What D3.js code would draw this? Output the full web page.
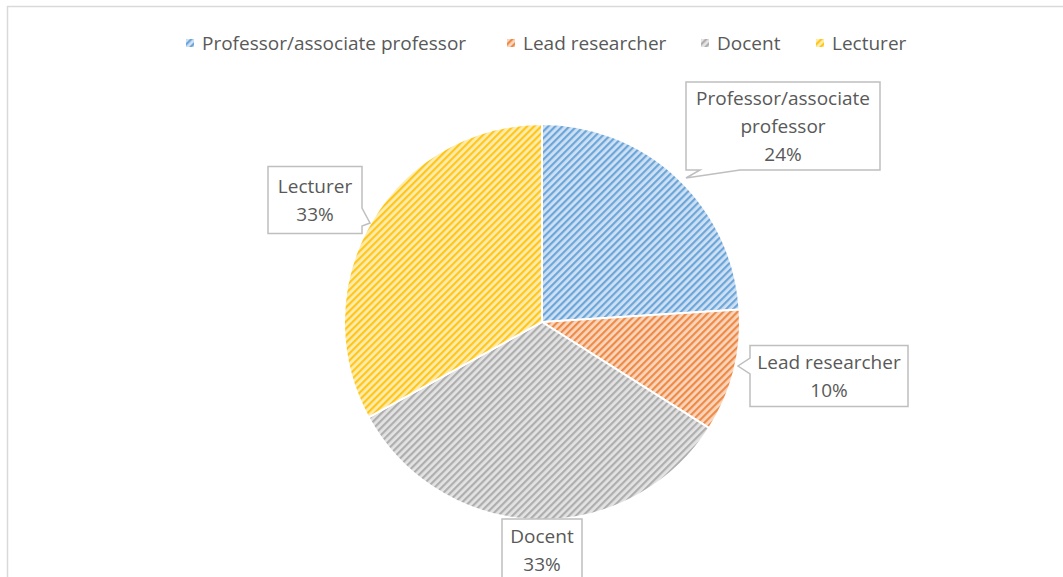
<!DOCTYPE html>
<html>
<head>
<meta charset="utf-8">
<script src="https://cdn.jsdelivr.net/npm/d3@7"></script>
<style>
  body { margin: 0; background: #fff; }
  text { font-family: "Open Sans", "Noto Sans", sans-serif; fill: #595959; }
</style>
</head>
<body>
<div id="chart"></div>
<script>
// data
var categories = ["Professor/associate professor", "Lead researcher", "Docent", "Lecturer"];
var values = [24, 10, 33, 33];
var labelLines = [["Professor/associate", "professor"], ["Lead researcher"], ["Docent"], ["Lecturer"]];
var colors = ["#5b9bd5", "#ed7d31", "#a5a5a5", "#ffc000"];
var tints = ["#cfe1f3", "#f9d6be", "#e3e3e3", "#ffecb0"];

var W = 1063, H = 577;
var cx = 542, cy = 322, R = 198;

var svg = d3.select("#chart").append("svg").attr("width", W).attr("height", H);

// hatch patterns
var defs = svg.append("defs");
colors.forEach(function(c, i) {
  var p = defs.append("pattern")
    .attr("id", "hatch" + i)
    .attr("patternUnits", "userSpaceOnUse")
    .attr("width", 5).attr("height", 5)
    .attr("patternTransform", "rotate(-45)");
  p.append("rect").attr("width", 5).attr("height", 5).attr("fill", tints[i]);
  p.append("rect").attr("width", 5).attr("height", 2.2).attr("fill", c).attr("opacity", 0.85);
});

// chart area border
svg.append("rect")
  .attr("x", 7.5).attr("y", 6.5).attr("width", 1200).attr("height", 700)
  .attr("fill", "none").attr("stroke", "#d9d9d9").attr("stroke-width", 1.5);

// legend
var legendX = [186, 507, 701, 816];
var legend = svg.append("g").selectAll("g").data(categories).enter().append("g")
  .attr("transform", function(d, i) { return "translate(" + legendX[i] + ",43)"; });
legend.append("rect").attr("x", 0).attr("y", -4).attr("width", 8).attr("height", 8)
  .attr("fill", function(d, i) { return "url(#hatch" + i + ")"; });
legend.append("text").attr("x", 16).attr("y", 0).attr("dy", "0.35em")
  .style("font-size", "19px").text(function(d) { return d; });

// pie
var pie = d3.pie().sort(null).value(function(d) { return d; });
var arc = d3.arc().innerRadius(0).outerRadius(R);
var arcs = pie(values);

var g = svg.append("g").attr("transform", "translate(" + cx + "," + cy + ")");
g.selectAll("path").data(arcs).enter().append("path")
  .attr("d", arc)
  .attr("fill", function(d, i) { return "url(#hatch" + i + ")"; })
  .attr("stroke", "#fff").attr("stroke-width", 2);

// data label callouts
var total = d3.sum(values);
var boxes = [
  { cx: 783, cy: 126, w: 194, h: 88, side: "bottom", b0: 700, b1: 740 },
  { cx: 829, cy: 376, w: 158, h: 61, side: "left", b0: 358, b1: 374 },
  { cx: 542, cy: 550, w: 80, h: 62, side: "none" },
  { cx: 315, cy: 200, w: 94, h: 67, side: "right", b0: 208, b1: 226 }
];
var tips = [[686, 178], [738, 366], null, [370, 223]];

function calloutPath(b, tip) {
  var x0 = b.cx - b.w / 2, x1 = b.cx + b.w / 2, y0 = b.cy - b.h / 2, y1 = b.cy + b.h / 2;
  var p = d3.path();
  p.moveTo(x0, y0);
  p.lineTo(x1, y0);
  if (b.side === "right") { p.lineTo(x1, b.b0); p.lineTo(tip[0], tip[1]); p.lineTo(x1, b.b1); }
  p.lineTo(x1, y1);
  if (b.side === "bottom") { p.lineTo(b.b1, y1); p.lineTo(tip[0], tip[1]); p.lineTo(b.b0, y1); }
  p.lineTo(x0, y1);
  if (b.side === "left") { p.lineTo(x0, b.b1); p.lineTo(tip[0], tip[1]); p.lineTo(x0, b.b0); }
  p.closePath();
  return p.toString();
}

var labels = svg.append("g").selectAll("g").data(arcs).enter().append("g");
labels.append("path")
  .attr("d", function(d, i) { return calloutPath(boxes[i], tips[i]); })
  .attr("fill", "#fff").attr("stroke", "#bfbfbf").attr("stroke-width", 1.5);
labels.each(function(d, i) {
  var b = boxes[i];
  var lines = labelLines[i].concat([Math.round(d.value / total * 100) + "%"]);
  var lh = 28;
  var t = d3.select(this).append("text")
    .attr("text-anchor", "middle")
    .style("font-size", "19px");
  lines.forEach(function(s, k) {
    t.append("tspan").attr("x", b.cx)
      .attr("y", b.cy + (k - (lines.length - 1) / 2) * lh)
      .attr("dy", "0.35em").text(s);
  });
});
</script>
</body>
</html>
